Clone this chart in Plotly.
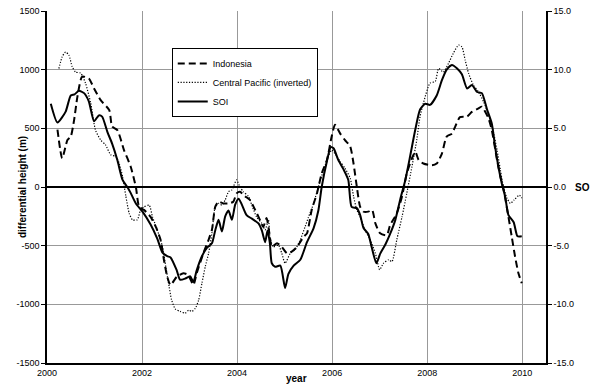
import plotly.graph_objects as go

# SOI (index units, right axis)
soi_year = [2000.08, 2000.22, 2000.39, 2000.50, 2000.58, 2000.67, 2000.78, 2000.88, 2000.99, 2001.09,
            2001.16, 2001.27, 2001.37, 2001.48, 2001.59, 2001.69, 2001.76, 2001.87, 2002.01, 2002.18,
            2002.32, 2002.43, 2002.53, 2002.60, 2002.73, 2002.80, 2002.91, 2003.01, 2003.08, 2003.15,
            2003.26, 2003.36, 2003.47, 2003.54, 2003.61, 2003.68, 2003.75, 2003.82, 2003.89, 2003.96,
            2004.03, 2004.10, 2004.20, 2004.31, 2004.45, 2004.52, 2004.59, 2004.64, 2004.69, 2004.73,
            2004.80, 2004.91, 2005.01, 2005.08, 2005.19, 2005.33, 2005.47, 2005.61, 2005.71, 2005.78,
            2005.89, 2005.97, 2006.03, 2006.13, 2006.24, 2006.34, 2006.41, 2006.52, 2006.59, 2006.66,
            2006.76, 2006.83, 2006.93, 2007.01, 2007.12, 2007.22, 2007.33, 2007.43, 2007.54, 2007.64,
            2007.75, 2007.85, 2007.96, 2008.06, 2008.20, 2008.31, 2008.41, 2008.52, 2008.63, 2008.73,
            2008.84, 2008.94, 2009.05, 2009.15, 2009.26, 2009.36, 2009.43, 2009.50, 2009.57, 2009.64,
            2009.71, 2009.82, 2009.90, 2009.99]
soi_val = [7.1, 5.5, 6.4, 7.8, 7.9, 8.2, 8.0, 7.3, 5.6, 6.1,
           6.0, 4.7, 3.7, 2.3, 0.6, 0.0, -0.5, -1.4, -2.1, -3.2,
           -4.4, -5.6, -5.9, -6.0, -7.1, -7.9, -7.8, -7.6, -8.1, -7.1,
           -5.9, -5.2, -4.8, -3.7, -2.8, -3.8, -2.5, -2.0, -2.8, -1.5,
           -1.0, -1.5, -2.4, -2.7, -3.1, -3.7, -4.7, -3.7, -4.8, -6.5,
           -6.8, -6.7, -8.6, -7.4, -6.7, -6.2, -4.7, -3.5, -2.0, 0.0,
           2.2, 3.4, 3.3, 2.3, 1.5, 0.6, -1.7, -1.8, -2.4, -3.5,
           -4.0, -5.1, -6.5, -5.7, -4.9, -4.0, -2.8, -1.1, 0.6, 2.6,
           4.9, 6.6, 7.1, 7.0, 7.8, 9.1, 10.0, 10.4, 10.1, 9.6,
           8.4, 8.7, 8.1, 8.0, 6.6, 5.4, 3.4, 1.7, 0.3, -0.8,
           -2.4, -3.0, -4.2, -4.2]

# Indonesia (m, left axis)
indo_year = [2000.22, 2000.32, 2000.43, 2000.50, 2000.57, 2000.64, 2000.74, 2000.88, 2000.99, 2001.13,
             2001.31, 2001.37, 2001.48, 2001.62, 2001.76, 2001.87, 2001.94, 2002.04, 2002.18, 2002.29,
             2002.39, 2002.46, 2002.53, 2002.60, 2002.73, 2002.87, 2002.97, 2003.08, 2003.15, 2003.29,
             2003.40, 2003.47, 2003.54, 2003.61, 2003.71, 2003.82, 2003.92, 2003.99, 2004.06, 2004.17,
             2004.27, 2004.38, 2004.48, 2004.55, 2004.62, 2004.68, 2004.73, 2004.84, 2004.94, 2005.05,
             2005.15, 2005.26, 2005.40, 2005.47, 2005.57, 2005.68, 2005.78, 2005.89, 2005.99, 2006.06,
             2006.17, 2006.27, 2006.38, 2006.45, 2006.52, 2006.59, 2006.66, 2006.76, 2006.84, 2006.91,
             2007.01, 2007.15, 2007.22, 2007.36, 2007.47, 2007.57, 2007.68, 2007.75, 2007.82, 2007.92,
             2008.10, 2008.20, 2008.31, 2008.41, 2008.52, 2008.59, 2008.69, 2008.84, 2008.94, 2009.08,
             2009.15, 2009.29, 2009.36, 2009.47, 2009.54, 2009.61, 2009.71, 2009.78, 2009.85, 2009.92,
             2009.99]
indo_val = [490, 245, 400, 430, 570, 770, 940, 925, 840, 740,
            655, 515, 485, 315, 175, 0, -170, -195, -255, -340,
            -450, -620, -765, -835, -765, -735, -750, -835, -735, -565,
            -450, -365, -170, -125, -140, -140, -125, -55, -40, -80,
            -110, -195, -280, -340, -265, -395, -510, -480, -510, -565,
            -550, -510, -425, -395, -195, -55, 115, 230, 430, 530,
            455, 400, 345, 200, 0, -170, -210, -210, -195, -310,
            -395, -410, -325, -225, -80, 115, 245, 300, 230, 200,
            185, 200, 285, 430, 455, 515, 595, 600, 640, 670,
            685, 585, 485, 230, 90, -25, -255, -425, -595, -735,
            -820]

# Central Pacific, inverted (m, left axis)
cp_year = [2000.25, 2000.32, 2000.39, 2000.46, 2000.53, 2000.60, 2000.71, 2000.81, 2000.92, 2001.02,
           2001.13, 2001.23, 2001.34, 2001.45, 2001.52, 2001.59, 2001.66, 2001.73, 2001.80, 2001.90,
           2001.97, 2002.04, 2002.15, 2002.22, 2002.32, 2002.43, 2002.50, 2002.57, 2002.62, 2002.70,
           2002.80, 2002.91, 2002.98, 2003.05, 2003.12, 2003.19, 2003.26, 2003.33, 2003.40, 2003.47,
           2003.54, 2003.61, 2003.68, 2003.75, 2003.82, 2003.89, 2003.99, 2004.06, 2004.13, 2004.24,
           2004.31, 2004.41, 2004.52, 2004.59, 2004.66, 2004.69, 2004.76, 2004.87, 2004.94, 2005.01,
           2005.12, 2005.22, 2005.33, 2005.43, 2005.50, 2005.61, 2005.71, 2005.82, 2005.92, 2005.99,
           2006.06, 2006.17, 2006.27, 2006.38, 2006.45, 2006.52, 2006.59, 2006.69, 2006.80, 2006.91,
           2007.00, 2007.08, 2007.19, 2007.26, 2007.36, 2007.47, 2007.57, 2007.68, 2007.78, 2007.85,
           2007.92, 2008.06, 2008.17, 2008.24, 2008.34, 2008.45, 2008.55, 2008.66, 2008.73, 2008.80,
           2008.87, 2008.97, 2009.08, 2009.19, 2009.29, 2009.40, 2009.47, 2009.54, 2009.61, 2009.68,
           2009.75, 2009.83, 2009.94, 2009.99]
cp_val = [1010, 1110, 1150, 1125, 1025, 980, 970, 885, 715, 485,
          400, 360, 275, 260, 200, 90, -80, -225, -280, -280,
          -195, -170, -155, -255, -365, -510, -680, -850, -960, -1040,
          -1060, -1075, -1050, -1060, -1035, -965, -820, -680, -565, -395,
          -170, -140, -155, -110, -40, -25, 60, 0, -40, -80,
          -155, -255, -310, -365, -280, -425, -510, -495, -565, -650,
          -565, -535, -450, -340, -260, -140, 0, 145, 260, 315,
          285, 215, 160, 75, -80, -195, -255, -365, -450, -565,
          -705, -650, -620, -635, -450, -255, -55, 175, 400, 600,
          715, 885, 900, 1010, 980, 1055, 1140, 1210, 1195, 1080,
          970, 870, 810, 725, 615, 455, 315, 145, -10, -95,
          -140, -110, -70, -95]

x_ticks = [2000, 2002, 2004, 2006, 2008, 2010]
y_ticks = [-1500, -1000, -500, 0, 500, 1000, 1500]
y2_ticks = [-15, -10, -5, 0, 5, 10, 15]

FONT = "Liberation Sans"

fig = go.Figure()
fig.add_trace(go.Scatter(x=indo_year, y=indo_val, name="Indonesia", mode="lines",
                         line=dict(color="black", width=2, dash="7px,4px", shape="spline", smoothing=0.6)))
fig.add_trace(go.Scatter(x=cp_year, y=cp_val, name="Central Pacific (inverted)", mode="lines",
                         line=dict(color="black", width=1.2, dash="1.2px,1.6px", shape="spline", smoothing=0.6)))
fig.add_trace(go.Scatter(x=soi_year, y=soi_val, name="SOI", mode="lines", yaxis="y2",
                         line=dict(color="black", width=2, shape="spline", smoothing=0.6)))

fig.update_layout(
    width=595, height=384,
    margin=dict(l=47, r=49, t=11, b=21),
    paper_bgcolor="white", plot_bgcolor="white",
    font=dict(family=FONT, size=9, color="black"),
    showlegend=True,
    legend=dict(x=0.25, y=0.895, xanchor="left", yanchor="top",
                bordercolor="black", borderwidth=1, bgcolor="white",
                font=dict(size=9), itemwidth=30, tracegroupgap=0),
    xaxis=dict(range=[2000, 2010.5], tickvals=x_ticks, ticktext=[str(v) for v in x_ticks],
               showgrid=True, gridcolor="#999999", gridwidth=1,
               showline=True, linecolor="black", linewidth=1.5,
               ticks="", zeroline=False, tickfont=dict(size=9), automargin=False),
    yaxis=dict(range=[-1500, 1500], tickvals=y_ticks, ticktext=[str(v) for v in y_ticks],
               showgrid=True, gridcolor="#999999", gridwidth=1,
               zeroline=True, zerolinecolor="black", zerolinewidth=1.5,
               showline=True, linecolor="black", linewidth=1.5,
               ticks="outside", ticklen=4, tickcolor="black", tickfont=dict(size=9), automargin=False),
    yaxis2=dict(range=[-15, 15], tickvals=y2_ticks, ticktext=[f"{v:.1f}" for v in y2_ticks],
                overlaying="y", side="right", showgrid=False, zeroline=False,
                showline=True, linecolor="black", linewidth=1.5,
                ticks="outside", ticklen=4, tickcolor="black", tickfont=dict(size=9), automargin=False),
    annotations=[
        dict(text="<b>differential height (m)</b>", xref="paper", yref="paper",
             x=-0.05, y=0.5, textangle=-90, showarrow=False, font=dict(size=10),
             xanchor="center", yanchor="middle"),
        dict(text="<b>SO</b>", xref="paper", yref="paper", x=1.074, y=0.5,
             showarrow=False, font=dict(size=10), xanchor="center", yanchor="middle"),
        dict(text="<b>year</b>", xref="paper", yref="paper", x=0.501, y=-0.045,
             showarrow=False, font=dict(size=10), xanchor="center", yanchor="middle"),
    ],
)

fig.write_html("out.html", config={"displayModeBar": False},
               post_script="document.body.style.margin='0';document.body.style.overflow='hidden';")
